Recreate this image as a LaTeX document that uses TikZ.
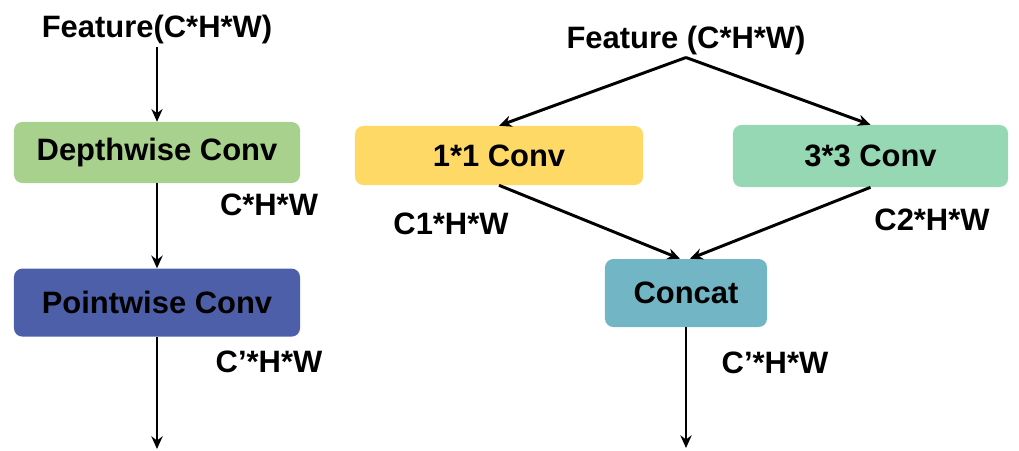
\documentclass[tikz,border=0pt]{standalone}
\usepackage{fontspec}
\setmainfont{Liberation Sans}
\usepackage{xcolor}
\usepackage{tikz}
\usetikzlibrary{positioning,arrows.meta,calc}

\definecolor{dwgreen}{HTML}{A9D18E}
\definecolor{pwblue}{HTML}{4E5FA9}
\definecolor{oneyellow}{HTML}{FFD966}
\definecolor{threemint}{HTML}{96D8B3}
\definecolor{catteal}{HTML}{72B5C5}

\begin{document}
\begin{tikzpicture}[
    x=0.025cm, y=-0.025cm,
    box/.style={rounded corners=6pt, minimum width=7.15cm, minimum height=1.525cm,
                align=center, font=\fontsize{22}{26}\selectfont\bfseries},
    txt/.style={inner sep=2pt, font=\fontsize{22}{26}\selectfont\bfseries},
    arr/.style={-{Stealth[length=9pt,width=8pt]}, line width=2.1pt},
  ]
  \useasboundingbox (0,0) rectangle (1019,450);

  % Depthwise separable branch
  \node[txt] (featl) at (157,29) {Feature(C*H*W)};
  \node[box, fill=dwgreen] (dw) at (157,152.5) {Depthwise Conv};
  \node[box, fill=pwblue, below=2.125cm of dw, minimum height=1.7cm] (pw) {Pointwise Conv};
  \coordinate (endl) at (157,449);
  \node[txt] (chw) at (269,205) {C*H*W};
  \node[txt] (cphw) at (269,362) {C’*H*W};

  % Two-branch block
  \node[txt] (featr) at (686,40) {Feature (C*H*W)};
  \node[box, fill=oneyellow, minimum width=7.2cm, minimum height=1.475cm] (c11) at (499,155.5) {1*1 Conv};
  \node[box, fill=threemint, minimum width=6.875cm, minimum height=1.55cm] (c33) at (870.5,156) {3*3 Conv};
  \node[box, fill=catteal, minimum width=4.05cm, minimum height=1.7cm] (cat) at (686,293) {Concat};
  \coordinate (endr) at (686,448);
  \node[txt] (c1hw) at (451,224) {C1*H*W};
  \node[txt] (c2hw) at (932,220) {C2*H*W};
  \node[txt] (cphwr) at (775,363) {C’*H*W};

  \draw[arr] (featl.south) -- (dw.north);
  \draw[arr] (dw.south)    -- (pw.north);
  \draw[arr] (pw.south)    -- (endl);

  \draw[arr] (featr.south) -- (c11.north);
  \draw[arr] (featr.south) -- (c33.north);
  \draw[arr] (c11.south) -- ($(cat.north)+(-6,0)$);
  \draw[arr] (c33.south) -- ($(cat.north)+(4,0)$);
  \draw[arr] (cat.south) -- (endr);
\end{tikzpicture}
\end{document}
